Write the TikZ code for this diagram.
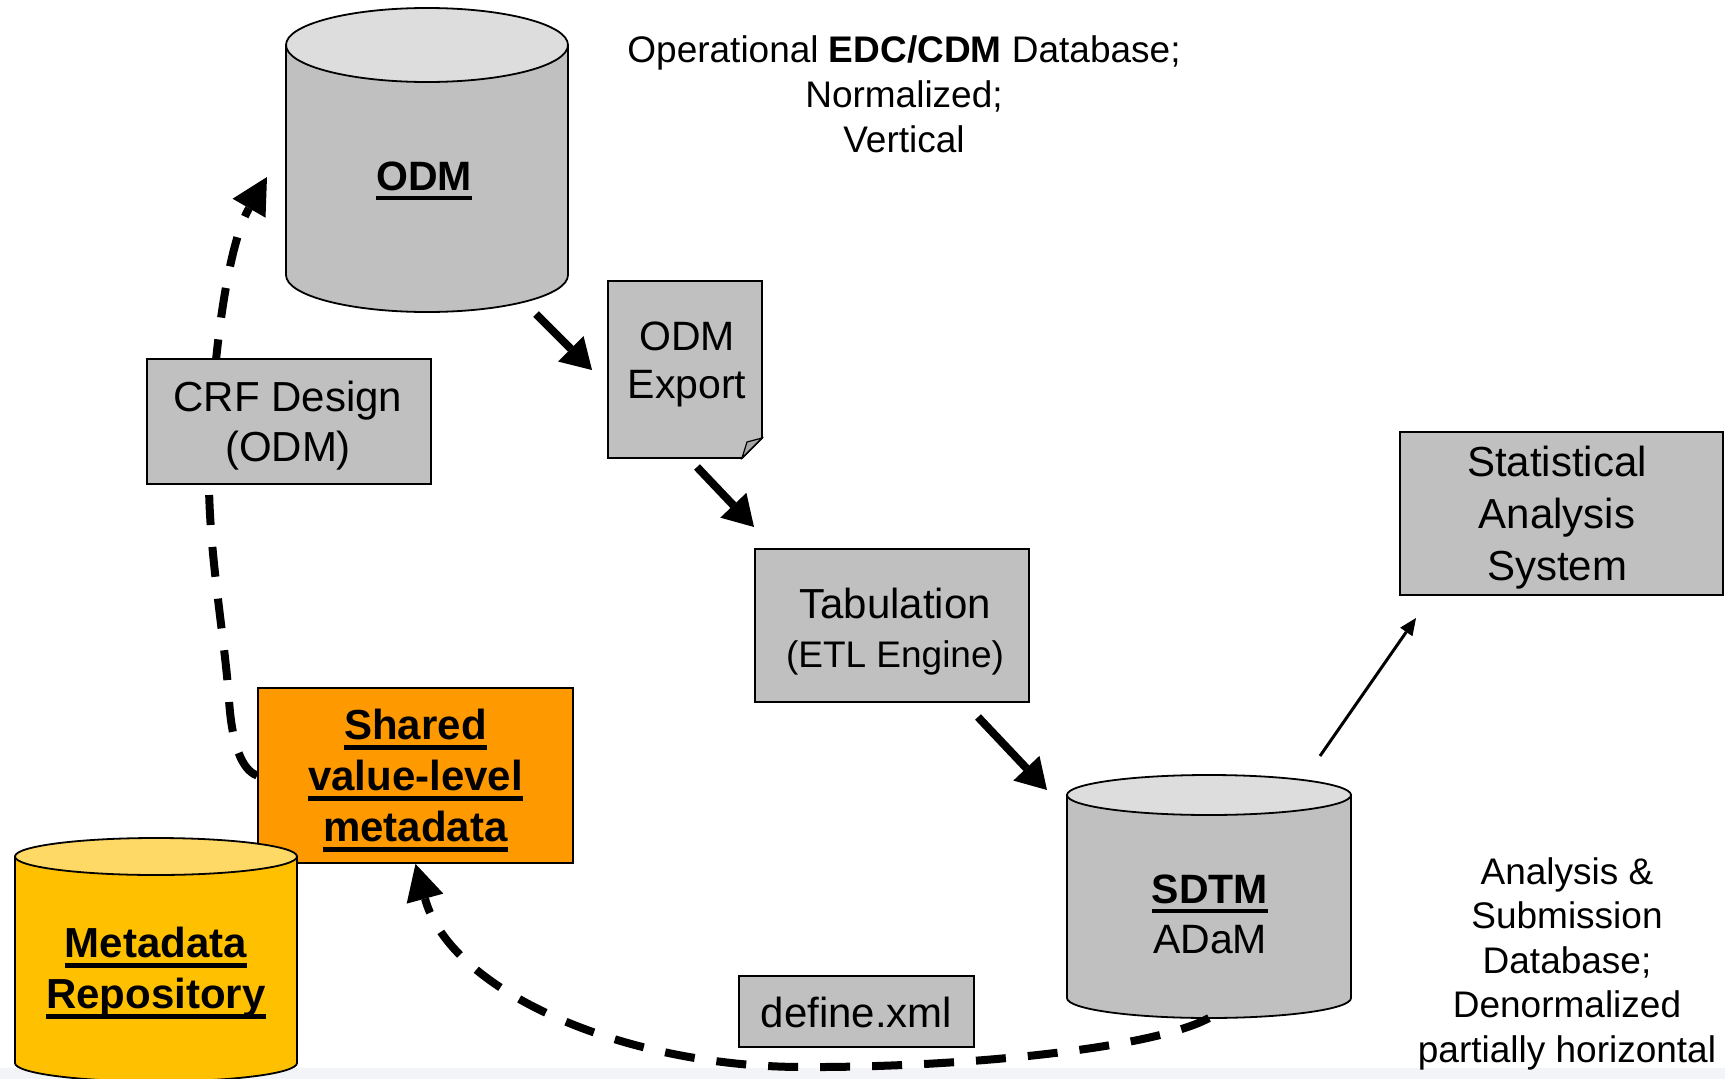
\documentclass[tikz,border=0pt]{standalone}
\usepackage{fontspec}
\setmainfont{Liberation Sans}
\usetikzlibrary{arrows.meta,backgrounds}
\definecolor{boxgray}{HTML}{C0C0C0}
\definecolor{topgray}{HTML}{DDDDDD}
\definecolor{mdyellow}{HTML}{FFC000}
\definecolor{mdtop}{HTML}{FFD966}
\definecolor{shorange}{HTML}{FF9900}
\definecolor{stripcol}{HTML}{F3F4F8}
\definecolor{foldgray}{HTML}{A6A6A6}
\newbox\ulbox
\newcommand\ulx[1]{\setbox\ulbox\hbox{#1}\rlap{\rule[-0.24em]{\wd\ulbox}{0.1em}}\box\ulbox}
\newcommand\sv{\rule[-0.25em]{0pt}{1em}}
\newcommand\fs[2]{\fontsize{#1}{#2}\selectfont}
\newcommand\dbcyl[7]{%
  \filldraw[cylline, fill=#6] ({#1-#4},#2) -- ({#1-#4},#3) arc[start angle=180, end angle=360, x radius=#4, y radius=#5] -- ({#1+#4},#2) -- cycle;
  \filldraw[cylline, fill=#7] (#1,#2) ellipse[x radius=#4, y radius=#5];}
\tikzset{
  cylline/.style={line width=1.8pt, draw=black},
  box/.style={draw, line width=1.8pt, fill=boxgray, inner sep=0pt},
  holder/.style={inner sep=0pt, outer sep=0pt},
  lbl/.style={inner sep=0pt, align=center},
  heavy/.style={line width=8pt, -{Triangle[length=30pt,width=36pt,line width=0pt]}},
  thinarr/.style={line width=3pt, -{Triangle[length=17pt,width=15pt,line width=0pt]}},
  dasharr/.style={line width=8pt, dash pattern=on 30pt off 22pt},
  bigtip/.style={-{Triangle[length=36pt,width=38pt,line width=0pt]}},
}
\begin{document}
\begin{tikzpicture}[x=1pt,y=1pt]
\useasboundingbox (0,0) rectangle (1725,-1079);

% ---- ODM cylinder
\node[holder, minimum width=282pt, minimum height=304pt] (odm) at (427,-160) {};
\dbcyl{427}{-45}{-275}{141}{37}{boxgray}{topgray}
\node[lbl, font={\fs{41}{49}\bfseries}] (odmL) at (424,-180) {\ulx{ODM}\sv};

% ---- top description
\node[lbl, font={\fs{37}{45}}] (topL) at (904,-98) {Operational \textbf{EDC/CDM} Database;\sv\\Normalized;\sv\\Vertical\sv};

% ---- ODM Export document
\node[holder, minimum width=154pt, minimum height=177pt] (exp) at (685,-369.5) {};
\filldraw[line width=1.8pt, fill=boxgray] (exp.north west) -- (exp.north east) -- ([yshift=20pt]exp.south east) -- ([xshift=-20pt]exp.south east) -- (exp.south west) -- cycle;
\filldraw[line width=1.2pt, fill=foldgray] ([xshift=-20pt]exp.south east) -- ([xshift=-15pt,yshift=16pt]exp.south east) -- ([yshift=20pt]exp.south east) -- cycle;
\node[lbl, font={\fs{41}{48}}] (expL) at (687,-363.75) {ODM\sv\\Export\sv};

% ---- CRF Design
\node[box, minimum width=284pt, minimum height=125pt] (crf) at (289,-421.5) {};
\node[lbl, font={\fs{42}{50}}] (crfL) at (288,-426) {CRF Design\sv\\(ODM)\sv};

% ---- Tabulation
\node[box, minimum width=274pt, minimum height=153pt] (tab) at (892,-625.5) {};
\node[lbl, font={\fs{42}{49}}] (tabL) at (895,-631.4) {Tabulation\sv\\{\fs{37}{49}(ETL Engine)\sv}};

% ---- Statistical Analysis System
\node[box, minimum width=323pt, minimum height=163pt] (stat) at (1561.5,-513.5) {};
\node[lbl, font={\fs{42}{52}}] (statL) at (1557,-517.8) {Statistical\sv\\Analysis\sv\\System\sv};

% ---- Shared value-level metadata
\node[box, fill=shorange, minimum width=315pt, minimum height=175pt] (shared) at (415.5,-775.5) {};
\node[lbl, font={\fs{42}{51}\bfseries}] (sharedL) at (415.5,-780) {\ulx{Shared}\sv\\\ulx{value-level}\sv\\\ulx{metadata}\sv};

% ---- Metadata Repository cylinder
\node[holder, minimum width=282pt, minimum height=243pt] (mdr) at (156,-959.5) {};
\dbcyl{156}{-856.5}{-1063}{141}{18.5}{mdyellow}{mdtop}
\node[lbl, font={\fs{42}{51}\bfseries}] (mdrL) at (156,-972.5) {\ulx{Metadata}\sv\\\ulx{Repository}\sv};

% ---- SDTM / ADaM cylinder
\node[holder, minimum width=284pt, minimum height=243pt] (sdtm) at (1209,-896.5) {};
\dbcyl{1209}{-795}{-998}{142}{20}{boxgray}{topgray}
\node[lbl, font={\fs{41}{50}}] (sdtmL) at (1210,-918) {\textbf{\ulx{SDTM}}\sv\\ADaM\sv};

% ---- define.xml
\node[box, minimum width=235pt, minimum height=71pt] (def) at (856.5,-1011.5) {};
\node[lbl, font={\fs{42}{50}}] (defL) at (856.5,-1016.5) {define.xml\sv};

% ---- Analysis text
\node[lbl, font={\fs{37}{44.5}}] (anL) at (1567,-963.75) {Analysis \&\sv\\Submission\sv\\Database;\sv\\Denormalized\sv\\partially horizontal\sv};

% ---- solid arrows
\coordinate (a1s) at (536,-314); \coordinate (a1e) at (592,-370);
\coordinate (a2s) at (697,-467); \coordinate (a2e) at (754,-527);
\coordinate (a3s) at (978,-717); \coordinate (a3e) at (1047,-790);
\coordinate (a4s) at (1320,-756); \coordinate (a4e) at (1416,-618);
\draw[heavy] (a1s) -- (a1e);
\draw[heavy] (a2s) -- (a2e);
\draw[heavy] (a3s) -- (a3e);
\draw[thinarr] (a4s) -- (a4e);

% ---- dashed connectors
\coordinate (odmtip) at (267,-177);
\draw[dasharr, bigtip] (sdtm.south) .. controls (1150,-1050) and (950,-1068) .. (800,-1067)
      .. controls (620,-1066) and (450,-990) .. (shared.south);

\begin{pgfonlayer}{background}
  \fill[white] (0,0) rectangle (1725,-1079);
  \fill[stripcol] (0,-1068) rectangle (1725,-1079);
  \draw[dasharr, bigtip] (shared.west) .. controls (242,-770) and (232,-745) .. (229,-700)
        .. controls (225,-640) and (210,-560) .. (209,-486)
        .. controls (210,-380) and (225,-250) .. (odmtip);
\end{pgfonlayer}
\end{tikzpicture}
\end{document}
